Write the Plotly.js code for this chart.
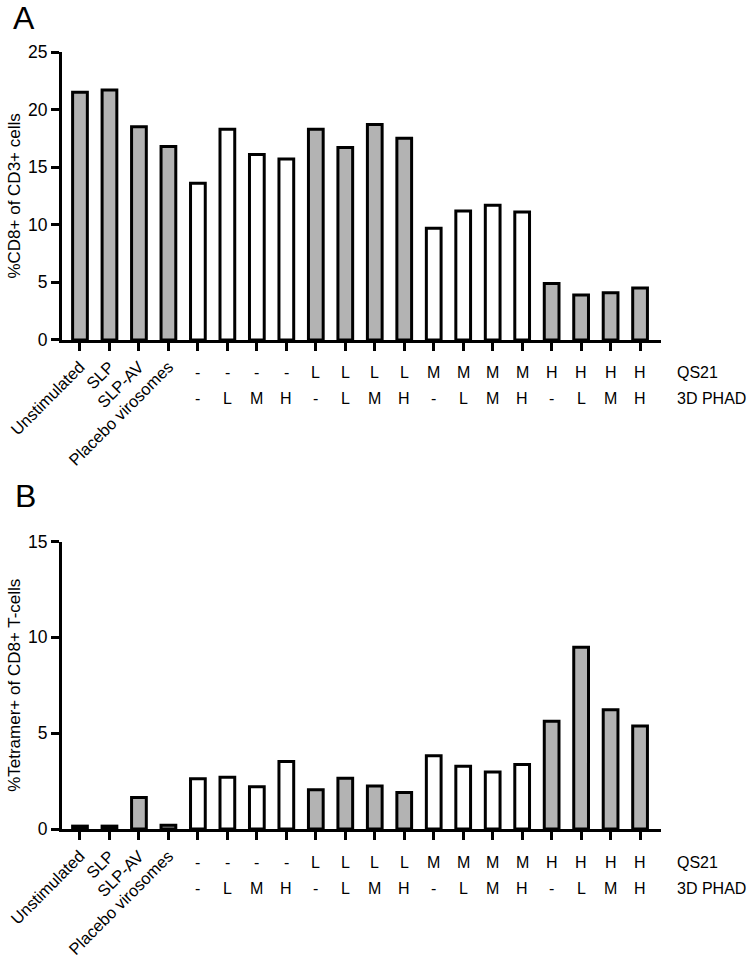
<!DOCTYPE html>
<html>
<head>
<meta charset="utf-8">
<script src="https://cdn.plot.ly/plotly-3.0.1.min.js"></script>
<style>html,body{margin:0;padding:0;background:#fff;}#chart{width:751px;height:964px;}</style>
</head>
<body>
<div id="chart"></div>
<script>
// ---- data ----
var controlLabels = ['Unstimulated', 'SLP', 'SLP-AV', 'Placebo virosomes'];
var qs21Levels  = ['', '', '', '', '-', '-', '-', '-', 'L', 'L', 'L', 'L', 'M', 'M', 'M', 'M', 'H', 'H', 'H', 'H'];
var phadLevels  = ['', '', '', '', '-', 'L', 'M', 'H', '-', 'L', 'M', 'H', '-', 'L', 'M', 'H', '-', 'L', 'M', 'H'];
var cd8OfCd3 = [21.5, 21.7, 18.5, 16.8, 13.6, 18.3, 16.1, 15.7, 18.3, 16.7, 18.7, 17.5, 9.7, 11.2, 11.7, 11.1, 4.9, 3.9, 4.1, 4.5];
var tetramerOfCd8 = [0.15, 0.15, 1.65, 0.2, 2.62, 2.7, 2.2, 3.52, 2.05, 2.65, 2.25, 1.9, 3.82, 3.28, 2.97, 3.36, 5.62, 9.48, 6.22, 5.38];
var rowNames = ['QS21', '3D PHAD'];

// ---- build ----
var n = cd8OfCd3.length;
var idx = [];
for (var i = 0; i < n; i++) idx.push(i);
var GRAY = 'rgb(179,179,179)', WHITE = '#ffffff';
var fills = idx.map(function (i) {
  var q = qs21Levels[i];
  return (i < controlLabels.length || q === 'L' || q === 'H') ? GRAY : WHITE;
});
var tickText = idx.map(function (i) { return i < controlLabels.length ? controlLabels[i] : ''; });

var FONT = 'Liberation Sans, Arial, Helvetica, sans-serif';

function barTrace(vals, xa, ya) {
  return {
    type: 'bar', x: idx, y: vals, xaxis: xa, yaxis: ya,
    width: 0.5,
    marker: { color: fills, line: { color: '#000', width: 3 } },
    hoverinfo: 'x+y', showlegend: false
  };
}

var xCommon = {
  range: [-0.61, 19.71], showgrid: false, zeroline: false,
  showline: true, linewidth: 3, linecolor: '#000',
  ticks: 'outside', ticklen: 8, tickwidth: 3, tickcolor: '#000',
  tickmode: 'array', tickvals: idx, ticktext: tickText, tickangle: -45,
  tickfont: { family: FONT, size: 16.5, color: '#000' }, automargin: false, fixedrange: true
};
var yCommon = {
  showgrid: false, zeroline: false, showline: true, linewidth: 3, linecolor: '#000',
  ticks: 'outside', ticklen: 8, tickwidth: 3, tickcolor: '#000',
  tickfont: { family: FONT, size: 17.5, color: '#000' }, automargin: false, fixedrange: true
};

var layout = {
  width: 751, height: 964,
  margin: { l: 62, r: 90, t: 52, b: 134.7 },
  paper_bgcolor: '#fff', plot_bgcolor: '#fff',
  font: { family: FONT, color: '#000' },
  bargap: 0.5,
  xaxis: Object.assign({}, xCommon, { anchor: 'y', domain: [0, 1] }),
  yaxis: Object.assign({}, yCommon, { anchor: 'x', domain: [0.6295, 1], range: [0, 25], dtick: 5, tick0: 0,
    title: { text: '%CD8+ of CD3+ cells', font: { family: FONT, size: 17, color: '#000' }, standoff: 4 } }),
  xaxis2: Object.assign({}, xCommon, { anchor: 'y2', domain: [0, 1] }),
  yaxis2: Object.assign({}, yCommon, { anchor: 'x2', domain: [0, 0.370], range: [0, 15], dtick: 5, tick0: 0,
    title: { text: '%Tetramer+ of CD8+ T-cells', font: { family: FONT, size: 17, color: '#000' }, standoff: 4 } }),
  annotations: []
};

function addRows(xref, yref) {
  for (var i = 0; i < n; i++) {
    if (!qs21Levels[i]) continue;
    layout.annotations.push({ xref: xref, yref: yref, x: i, y: 0, yshift: -33, text: qs21Levels[i],
      showarrow: false, xanchor: 'center', yanchor: 'middle', font: { family: FONT, size: 16, color: '#000' } });
    layout.annotations.push({ xref: xref, yref: yref, x: i, y: 0, yshift: -59, text: phadLevels[i],
      showarrow: false, xanchor: 'center', yanchor: 'middle', font: { family: FONT, size: 16, color: '#000' } });
  }
  layout.annotations.push({ xref: 'paper', yref: yref, x: 1.0234, y: 0, yshift: -33, text: rowNames[0],
    showarrow: false, xanchor: 'left', yanchor: 'middle', font: { family: FONT, size: 16, color: '#000' } });
  layout.annotations.push({ xref: 'paper', yref: yref, x: 1.0234, y: 0, yshift: -59, text: rowNames[1],
    showarrow: false, xanchor: 'left', yanchor: 'middle', font: { family: FONT, size: 16, color: '#000' } });
}
addRows('x', 'y');
addRows('x2', 'y2');

layout.annotations.push({ xref: 'paper', yref: 'paper', x: -0.085, y: 1.044, text: 'A', showarrow: false,
  xanchor: 'left', yanchor: 'middle', font: { family: FONT, size: 32, color: '#000' } });
layout.annotations.push({ xref: 'paper', yref: 'paper', x: -0.082, y: 0.429, text: 'B', showarrow: false,
  xanchor: 'left', yanchor: 'middle', font: { family: FONT, size: 32, color: '#000' } });

Plotly.newPlot('chart', [barTrace(cd8OfCd3, 'x', 'y'), barTrace(tetramerOfCd8, 'x2', 'y2')], layout,
  { displayModeBar: false, staticPlot: true });
</script>
</body>
</html>
